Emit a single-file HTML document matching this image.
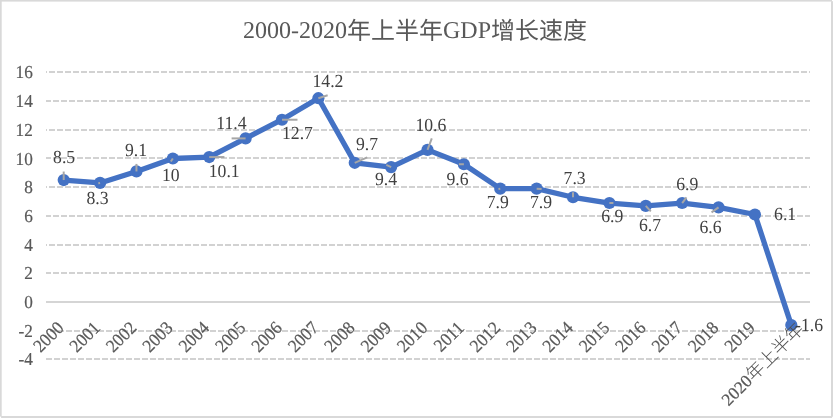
<!DOCTYPE html>
<html><head><meta charset="utf-8"><title>2000-2020年上半年GDP增长速度</title>
<style>
html,body{margin:0;padding:0;background:#fff;}
body{width:834px;height:418px;overflow:hidden;}
svg{display:block;}
text{font-family:"Liberation Serif","Noto Sans CJK SC",serif;text-rendering:geometricPrecision;}
.ax{font-size:17.2px;fill:#595959;stroke:#595959;stroke-width:0.2px;}
.axc{fill:#505050;font-weight:300;stroke:none;}
.dl{font-size:17.7px;fill:#404040;}
.title{font-size:24px;fill:#595959;}
</style></head><body>
<svg width="834" height="418" viewBox="0 0 834 418">
<rect x="0" y="0" width="834" height="418" fill="#fff"/>
<rect x="0" y="0" width="832" height="1.6" fill="#D9D9D9"/>
<rect x="0" y="0" width="1.7" height="416.6" fill="#D9D9D9"/>
<rect x="831" y="1.2" width="2" height="415.5" fill="#D9D9D9"/>
<rect x="1.1" y="416" width="831" height="2" fill="#D9D9D9"/>

<line x1="46.0" y1="359.00" x2="810.0" y2="359.00" stroke="#D2D2D2" stroke-width="1.8" stroke-dasharray="6 2" stroke-dashoffset="0"/>
<line x1="46.0" y1="331.00" x2="810.0" y2="331.00" stroke="#D2D2D2" stroke-width="1.8" stroke-dasharray="6 2" stroke-dashoffset="4"/>
<line x1="46.0" y1="302.00" x2="810.0" y2="302.00" stroke="#D5D5D5" stroke-width="2"/>
<line x1="46.0" y1="273.00" x2="810.0" y2="273.00" stroke="#D2D2D2" stroke-width="1.8" stroke-dasharray="6 2" stroke-dashoffset="1"/>
<line x1="46.0" y1="245.00" x2="810.0" y2="245.00" stroke="#D2D2D2" stroke-width="1.8" stroke-dasharray="6 2" stroke-dashoffset="5"/>
<line x1="46.0" y1="216.00" x2="810.0" y2="216.00" stroke="#D2D2D2" stroke-width="1.8" stroke-dasharray="6 2" stroke-dashoffset="1"/>
<line x1="46.0" y1="187.00" x2="810.0" y2="187.00" stroke="#D2D2D2" stroke-width="1.8" stroke-dasharray="6 2" stroke-dashoffset="5"/>
<line x1="46.0" y1="158.00" x2="810.0" y2="158.00" stroke="#D2D2D2" stroke-width="1.8" stroke-dasharray="6 2" stroke-dashoffset="1"/>
<line x1="46.0" y1="130.00" x2="810.0" y2="130.00" stroke="#D2D2D2" stroke-width="1.8" stroke-dasharray="6 2" stroke-dashoffset="5"/>
<line x1="46.0" y1="101.00" x2="810.0" y2="101.00" stroke="#D2D2D2" stroke-width="1.8" stroke-dasharray="6 2" stroke-dashoffset="1"/>
<line x1="46.0" y1="72.00" x2="810.0" y2="72.00" stroke="#D2D2D2" stroke-width="1.8" stroke-dasharray="6 2" stroke-dashoffset="5"/>
<text class="ax" transform="translate(32.8,365.40) scale(1,1.06)" text-anchor="end">-4</text>
<text class="ax" transform="translate(32.8,336.70) scale(1,1.06)" text-anchor="end">-2</text>
<text class="ax" transform="translate(32.8,308.00) scale(1,1.06)" text-anchor="end">0</text>
<text class="ax" transform="translate(32.8,279.30) scale(1,1.06)" text-anchor="end">2</text>
<text class="ax" transform="translate(32.8,250.60) scale(1,1.06)" text-anchor="end">4</text>
<text class="ax" transform="translate(32.8,221.90) scale(1,1.06)" text-anchor="end">6</text>
<text class="ax" transform="translate(32.8,193.20) scale(1,1.06)" text-anchor="end">8</text>
<text class="ax" transform="translate(32.8,164.50) scale(1,1.06)" text-anchor="end">10</text>
<text class="ax" transform="translate(32.8,135.80) scale(1,1.06)" text-anchor="end">12</text>
<text class="ax" transform="translate(32.8,107.10) scale(1,1.06)" text-anchor="end">14</text>
<text class="ax" transform="translate(32.8,78.40) scale(1,1.06)" text-anchor="end">16</text>
<text class="title" x="415.0" y="38.3" text-anchor="middle">2000-2020<tspan dy="1">年上半年</tspan><tspan dy="-1">GDP</tspan><tspan dy="1">增长速度</tspan></text>
<polyline points="63.70,180.04 100.08,182.91 136.46,171.42 172.84,158.50 209.22,157.06 245.60,138.40 281.98,119.73 318.36,98.19 354.74,162.81 391.12,167.12 427.50,149.88 463.88,164.24 500.26,188.66 536.64,188.66 573.02,197.27 609.40,203.02 645.78,205.89 682.16,203.02 718.54,207.32 754.92,214.50 791.30,325.08" fill="none" stroke="#4472C4" stroke-width="5.3" stroke-linejoin="round" stroke-linecap="round"/>
<circle cx="63.70" cy="180.04" r="6.1" fill="#4472C4"/>
<circle cx="100.08" cy="182.91" r="6.1" fill="#4472C4"/>
<circle cx="136.46" cy="171.42" r="6.1" fill="#4472C4"/>
<circle cx="172.84" cy="158.50" r="6.1" fill="#4472C4"/>
<circle cx="209.22" cy="157.06" r="6.1" fill="#4472C4"/>
<circle cx="245.60" cy="138.40" r="6.1" fill="#4472C4"/>
<circle cx="281.98" cy="119.73" r="6.1" fill="#4472C4"/>
<circle cx="318.36" cy="98.19" r="6.1" fill="#4472C4"/>
<circle cx="354.74" cy="162.81" r="6.1" fill="#4472C4"/>
<circle cx="391.12" cy="167.12" r="6.1" fill="#4472C4"/>
<circle cx="427.50" cy="149.88" r="6.1" fill="#4472C4"/>
<circle cx="463.88" cy="164.24" r="6.1" fill="#4472C4"/>
<circle cx="500.26" cy="188.66" r="6.1" fill="#4472C4"/>
<circle cx="536.64" cy="188.66" r="6.1" fill="#4472C4"/>
<circle cx="573.02" cy="197.27" r="6.1" fill="#4472C4"/>
<circle cx="609.40" cy="203.02" r="6.1" fill="#4472C4"/>
<circle cx="645.78" cy="205.89" r="6.1" fill="#4472C4"/>
<circle cx="682.16" cy="203.02" r="6.1" fill="#4472C4"/>
<circle cx="718.54" cy="207.32" r="6.1" fill="#4472C4"/>
<circle cx="754.92" cy="214.50" r="6.1" fill="#4472C4"/>
<circle cx="791.30" cy="325.08" r="6.1" fill="#4472C4"/>
<line x1="63.70" y1="180.04" x2="63.70" y2="171.54" stroke="#A6A6A6" stroke-width="2"/>
<line x1="100.08" y1="182.91" x2="98.28" y2="183.21" stroke="#A6A6A6" stroke-width="2"/>
<line x1="136.46" y1="171.42" x2="136.46" y2="163.92" stroke="#A6A6A6" stroke-width="2"/>
<line x1="172.84" y1="158.50" x2="170.84" y2="161.50" stroke="#A6A6A6" stroke-width="2"/>
<line x1="209.22" y1="157.06" x2="224.42" y2="157.06" stroke="#A6A6A6" stroke-width="2"/>
<line x1="245.60" y1="138.40" x2="231.60" y2="138.40" stroke="#A6A6A6" stroke-width="2"/>
<line x1="281.98" y1="119.73" x2="297.48" y2="119.73" stroke="#A6A6A6" stroke-width="2"/>
<line x1="318.36" y1="98.19" x2="327.66" y2="95.19" stroke="#A6A6A6" stroke-width="2"/>
<line x1="354.74" y1="162.81" x2="367.24" y2="157.31" stroke="#A6A6A6" stroke-width="2"/>
<line x1="391.12" y1="167.12" x2="386.32" y2="164.92" stroke="#A6A6A6" stroke-width="2"/>
<line x1="427.50" y1="149.88" x2="431.80" y2="138.38" stroke="#A6A6A6" stroke-width="2"/>
<line x1="463.88" y1="164.24" x2="458.88" y2="164.24" stroke="#A6A6A6" stroke-width="2"/>
<line x1="500.26" y1="188.66" x2="498.46" y2="188.96" stroke="#A6A6A6" stroke-width="2"/>
<line x1="536.64" y1="188.66" x2="541.64" y2="188.96" stroke="#A6A6A6" stroke-width="2"/>
<line x1="573.02" y1="197.27" x2="573.02" y2="192.27" stroke="#A6A6A6" stroke-width="2"/>
<line x1="609.40" y1="203.02" x2="613.40" y2="203.02" stroke="#A6A6A6" stroke-width="2"/>
<line x1="645.78" y1="205.89" x2="650.78" y2="211.39" stroke="#A6A6A6" stroke-width="2"/>
<line x1="682.16" y1="203.02" x2="686.46" y2="197.42" stroke="#A6A6A6" stroke-width="2"/>
<line x1="718.54" y1="207.32" x2="711.54" y2="212.32" stroke="#A6A6A6" stroke-width="2"/>
<text class="ax" transform="translate(64.80,329.00) rotate(-45) scale(1,1.06)" text-anchor="end">2000</text>
<text class="ax" transform="translate(101.18,329.00) rotate(-45) scale(1,1.06)" text-anchor="end">2001</text>
<text class="ax" transform="translate(137.56,329.00) rotate(-45) scale(1,1.06)" text-anchor="end">2002</text>
<text class="ax" transform="translate(173.94,329.00) rotate(-45) scale(1,1.06)" text-anchor="end">2003</text>
<text class="ax" transform="translate(210.32,329.00) rotate(-45) scale(1,1.06)" text-anchor="end">2004</text>
<text class="ax" transform="translate(246.70,329.00) rotate(-45) scale(1,1.06)" text-anchor="end">2005</text>
<text class="ax" transform="translate(283.08,329.00) rotate(-45) scale(1,1.06)" text-anchor="end">2006</text>
<text class="ax" transform="translate(319.46,329.00) rotate(-45) scale(1,1.06)" text-anchor="end">2007</text>
<text class="ax" transform="translate(355.84,329.00) rotate(-45) scale(1,1.06)" text-anchor="end">2008</text>
<text class="ax" transform="translate(392.22,329.00) rotate(-45) scale(1,1.06)" text-anchor="end">2009</text>
<text class="ax" transform="translate(428.60,329.00) rotate(-45) scale(1,1.06)" text-anchor="end">2010</text>
<text class="ax" transform="translate(464.98,329.00) rotate(-45) scale(1,1.06)" text-anchor="end">2011</text>
<text class="ax" transform="translate(501.36,329.00) rotate(-45) scale(1,1.06)" text-anchor="end">2012</text>
<text class="ax" transform="translate(537.74,329.00) rotate(-45) scale(1,1.06)" text-anchor="end">2013</text>
<text class="ax" transform="translate(574.12,329.00) rotate(-45) scale(1,1.06)" text-anchor="end">2014</text>
<text class="ax" transform="translate(610.50,329.00) rotate(-45) scale(1,1.06)" text-anchor="end">2015</text>
<text class="ax" transform="translate(646.88,329.00) rotate(-45) scale(1,1.06)" text-anchor="end">2016</text>
<text class="ax" transform="translate(683.26,329.00) rotate(-45) scale(1,1.06)" text-anchor="end">2017</text>
<text class="ax" transform="translate(719.64,329.00) rotate(-45) scale(1,1.06)" text-anchor="end">2018</text>
<text class="ax" transform="translate(756.02,329.00) rotate(-45) scale(1,1.06)" text-anchor="end">2019</text>
<text class="ax" transform="translate(805.0,330.3) rotate(-45)" text-anchor="end"><tspan style="font-size:17.5px">2020</tspan><tspan class="axc" style="font-size:18.3px">年上半年</tspan></text>
<text class="dl" transform="translate(53.10,163.00) scale(1,1.045)">8.5</text>
<text class="dl" transform="translate(86.50,203.50) scale(1,1.045)">8.3</text>
<text class="dl" transform="translate(124.90,155.50) scale(1,1.045)">9.1</text>
<text class="dl" transform="translate(161.90,181.20) scale(1,1.045)">10</text>
<text class="dl" transform="translate(208.70,177.00) scale(1,1.045)">10.1</text>
<text class="dl" transform="translate(216.30,128.70) scale(1,1.045)">11.4</text>
<text class="dl" transform="translate(282.00,138.80) scale(1,1.045)">12.7</text>
<text class="dl" transform="translate(312.50,87.20) scale(1,1.045)">14.2</text>
<text class="dl" transform="translate(356.00,149.80) scale(1,1.045)">9.7</text>
<text class="dl" transform="translate(374.90,185.00) scale(1,1.045)">9.4</text>
<text class="dl" transform="translate(415.40,130.60) scale(1,1.045)">10.6</text>
<text class="dl" transform="translate(446.40,185.00) scale(1,1.045)">9.6</text>
<text class="dl" transform="translate(486.70,208.10) scale(1,1.045)">7.9</text>
<text class="dl" transform="translate(530.00,208.20) scale(1,1.045)">7.9</text>
<text class="dl" transform="translate(563.60,184.10) scale(1,1.045)">7.3</text>
<text class="dl" transform="translate(601.20,221.90) scale(1,1.045)">6.9</text>
<text class="dl" transform="translate(639.00,231.30) scale(1,1.045)">6.7</text>
<text class="dl" transform="translate(676.20,189.50) scale(1,1.045)">6.9</text>
<text class="dl" transform="translate(699.40,232.60) scale(1,1.045)">6.6</text>
<text class="dl" transform="translate(774.10,219.50) scale(1,1.045)">6.1</text>
<text class="dl" transform="translate(795.00,331.30) scale(1,1.045)">-1.6</text>
</svg></body></html>
